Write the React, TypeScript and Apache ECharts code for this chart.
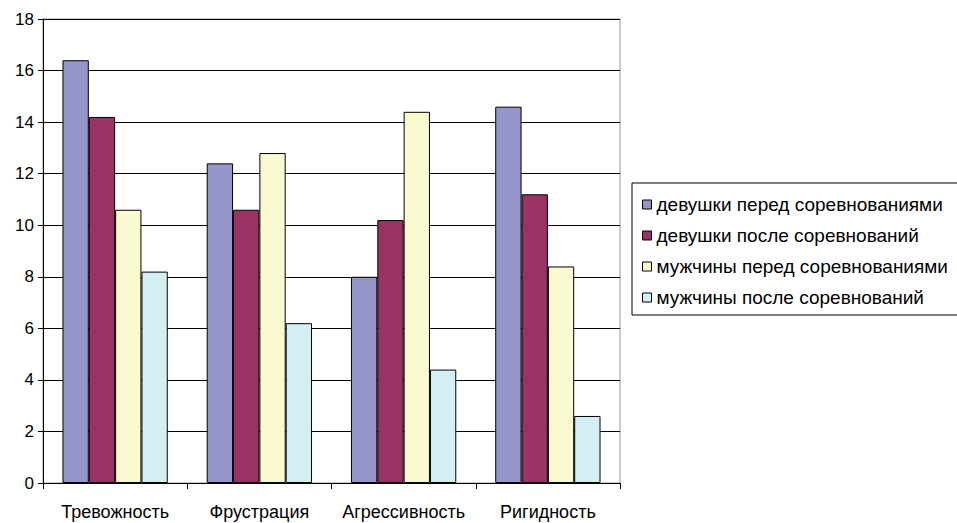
import React, { useEffect, useRef } from "react";
import * as echarts from "echarts";

const categories = ["Тревожность", "Фрустрация", "Агрессивность", "Ригидность"];
const seriesNames = [
  "девушки перед соревнованиями",
  "девушки после соревнований",
  "мужчины перед соревнованиями",
  "мужчины после соревнований",
];
const girlsBefore = [16.4, 12.4, 8.0, 14.6];
const girlsAfter = [14.2, 10.6, 10.2, 11.2];
const menBefore = [10.6, 12.8, 14.4, 8.4];
const menAfter = [8.2, 6.2, 4.4, 2.6];
const colors = ["#9595c9", "#993366", "#fbf9d0", "#d3eef4"];

export default function App() {
  const ref = useRef<HTMLDivElement>(null);
  useEffect(() => {
    if (!ref.current) return;
    const chart = echarts.init(ref.current, undefined, { renderer: "svg" });
    const values = [girlsBefore, girlsAfter, menBefore, menAfter];
    const font = "'Liberation Sans', Arial, sans-serif";
    chart.setOption({
      animation: false,
      backgroundColor: "#ffffff",
      textStyle: { fontFamily: font },
      grid: { left: 43, top: 19, right: 337, bottom: 40, show: true, borderColor: "#999", borderWidth: 1 },
      legend: {
        orient: "vertical",
        left: 632,
        top: 183,
        padding: [12, 10, 8, 10],
        itemGap: 12,
        itemWidth: 9,
        itemHeight: 9,
        borderColor: "#000",
        borderWidth: 1,
        icon: "rect",
        itemStyle: { borderColor: "#000", borderWidth: 1 },
        textStyle: { fontSize: 19, color: "#000", fontFamily: font },
        data: seriesNames,
      },
      xAxis: {
        type: "category",
        data: categories,
        axisLine: { lineStyle: { color: "#000" } },
        axisTick: { show: true, interval: 0, length: 6, lineStyle: { color: "#000" } },
        axisLabel: { interval: 0, hideOverlap: false, fontSize: 18, color: "#000", margin: 20 },
      },
      yAxis: {
        type: "value",
        min: 0,
        max: 18,
        interval: 2,
        axisLine: { show: true, lineStyle: { color: "#000" } },
        axisTick: { show: true, length: 5, lineStyle: { color: "#000" } },
        axisLabel: { fontSize: 17, color: "#000", margin: 9 },
        splitLine: { lineStyle: { color: "#000", width: 1 } },
      },
      series: seriesNames.map((name, i) => ({
        name,
        type: "bar",
        data: values[i],
        barGap: "0%",
        barCategoryGap: "27%",
        itemStyle: { color: colors[i], borderColor: "#000", borderWidth: 1 },
      })),
    });
    return () => chart.dispose();
  }, []);
  return <div ref={ref} style={{ position: "fixed", left: 0, top: 0, width: 957, height: 523 }} />;
}
